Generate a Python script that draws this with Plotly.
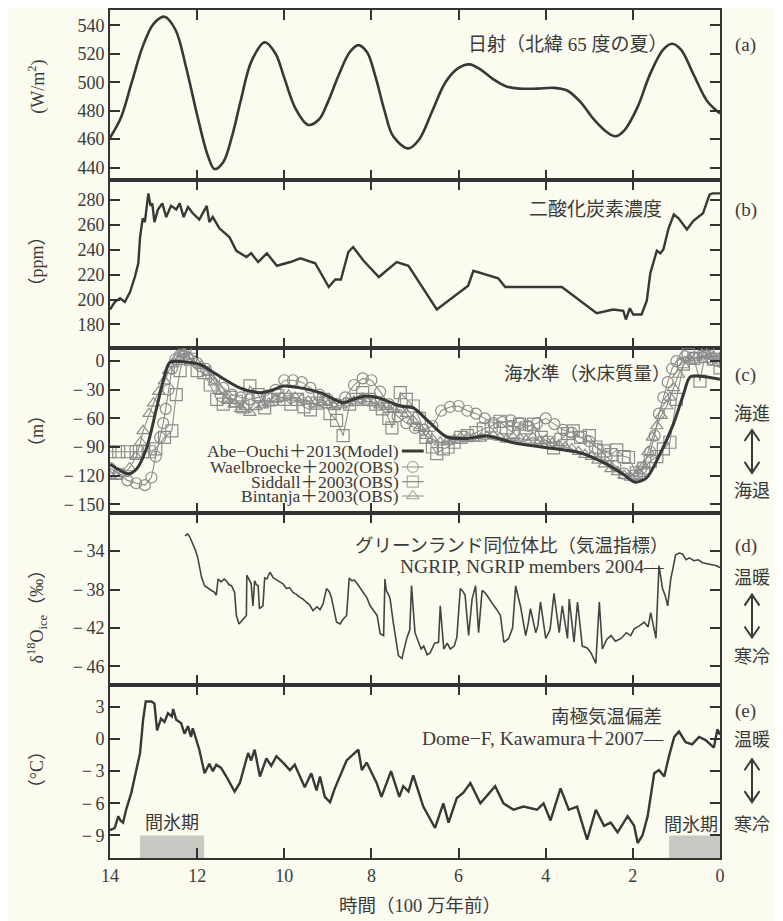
import plotly.graph_objects as go

# ---------------- data ----------------
# (a) insolation, 65N summer (W/m2)
ins_x = [14.0, 13.75, 13.5, 13.25, 13.0, 12.75, 12.5, 12.25, 12.0, 11.75, 11.6, 11.4, 11.2, 11.0, 10.75,
         10.45, 10.2, 10.0, 9.75, 9.45, 9.2, 9.0, 8.75, 8.5, 8.3, 8.1, 7.9, 7.7, 7.5, 7.15, 6.9, 6.6, 6.3,
         6.0, 5.75, 5.5, 5.2, 4.9, 4.6, 4.2, 3.8, 3.5, 3.2, 2.9, 2.6, 2.4, 2.2, 1.9, 1.6, 1.3, 1.1, 0.9,
         0.6, 0.3, 0.0]
ins_y = [461, 475, 500, 525, 541, 546, 537, 510, 477, 448, 439, 444, 462, 487, 515,
         528, 520, 503, 482, 470, 474, 486, 505, 521, 526, 521, 503, 480, 462, 453.5, 460, 480, 500,
         510, 512.5, 509, 502, 497, 495.5, 495.5, 496, 494, 486, 474, 465, 462, 466, 482, 506, 523, 527, 523,
         505, 487, 478]

# (b) CO2 (ppm)
co2_x = [14.0, 13.89, 13.77, 13.66, 13.54, 13.43, 13.35, 13.31, 13.25, 13.2, 13.12, 13.07, 13.03, 12.98,
         12.9, 12.8, 12.71, 12.6, 12.48, 12.4, 12.31, 12.21, 12.1, 11.95, 11.78, 11.72, 11.64, 11.49,
         11.26, 11.1, 10.87, 10.76, 10.6, 10.4, 10.17, 9.86, 9.63, 9.29, 8.98, 8.83, 8.7, 8.53, 8.42,
         8.18, 7.83, 7.42, 7.15, 6.5, 5.78, 5.66, 5.09, 4.93, 3.63, 2.83, 2.45, 2.22, 2.16, 2.07, 1.99,
         1.8, 1.68, 1.6, 1.45, 1.37, 1.3, 1.18, 1.06, 0.95, 0.76, 0.61, 0.39, 0.24, 0.17, 0.0]
co2_y = [192, 198, 201, 198, 206, 218, 229, 250, 265, 262, 285, 275, 277, 262,
         272, 277, 266, 275, 272, 277, 266, 274, 269, 264, 275, 262, 266, 257,
         250, 239, 234, 237, 230, 237, 227, 230, 233, 229, 210, 216, 216, 238, 242,
         231, 218, 230, 227, 192, 211, 223, 217, 210, 210, 189, 192, 191, 184, 193, 188,
         188, 199, 221, 239, 237, 240, 257, 268, 265, 256, 263, 269, 284, 285, 285]

# (c) sea level (m)
model_x = [14.0, 13.58, 13.39, 13.16, 12.93, 12.74, 12.62, 12.24, 11.93, 11.55, 11.02, 10.56, 10.25, 10.02,
           9.64, 9.18, 8.65, 8.42, 8.11, 7.8, 7.34, 7.04, 6.66, 6.27, 5.81, 5.35, 4.74, 3.98, 3.21, 2.6,
           2.22, 1.95, 1.68, 1.38, 1.07, 0.84, 0.69, 0.46, 0.0]
model_y = [-108, -118, -113, -91, -49, -14, -1, -1, -3.5, -14, -28, -33, -30, -26,
           -28, -33, -43.6, -40, -36.6, -39, -47, -49, -64.5, -79.5, -81, -78.5, -85.5, -90.7, -96, -108,
           -118.6, -127, -122, -97.6, -66, -35, -16.7, -15.7, -19]

wael_x = [14.0, 13.8, 13.6, 13.4, 13.2, 13.05, 12.95, 12.85, 12.78, 12.72, 12.66, 12.58, 12.5, 12.4, 12.3,
          12.2, 12.0, 11.8, 11.6, 11.4, 11.2, 11.0, 10.8, 10.6, 10.4, 10.2, 10.0, 9.8, 9.6, 9.4, 9.2, 9.0,
          8.8, 8.6, 8.4, 8.2, 8.0, 7.8, 7.6, 7.4, 7.2, 7.0, 6.8, 6.6, 6.4, 6.2, 6.0, 5.8, 5.6, 5.4, 5.2,
          5.0, 4.8, 4.6, 4.4, 4.2, 4.0, 3.8, 3.6, 3.4, 3.2, 3.0, 2.8, 2.6, 2.4, 2.2, 2.0, 1.8, 1.6, 1.5,
          1.4, 1.3, 1.2, 1.1, 1.0, 0.8, 0.6, 0.4, 0.2, 0.05]
wael_y = [-112, -118, -125, -128, -130, -122, -100, -80, -65, -50, -30, -8, 2, 6, 5,
          3, -2, -8, -18, -28, -35, -38, -40, -38, -36, -30, -20, -20, -22, -28, -35, -40,
          -45, -38, -25, -18, -20, -32, -45, -58, -65, -70, -72, -68, -52, -48, -47, -52, -55, -60, -65,
          -64, -62, -65, -68, -65, -60, -66, -72, -75, -80, -84, -92, -100, -110, -118, -120, -112, -95, -78,
          -55, -38, -22, -8, 0, 5, 3, 4, 2, 0]

sidd_x = [14.0, 13.8, 13.6, 13.4, 13.25, 13.1, 12.95, 12.75, 12.58, 12.48, 12.39, 12.28, 12.15, 12.0, 11.85,
          11.7, 11.55, 11.4, 11.25, 11.1, 10.95, 10.79, 10.6, 10.45, 10.3, 10.15, 10.0, 9.85, 9.7, 9.55,
          9.4, 9.25, 9.1, 8.95, 8.8, 8.65, 8.5, 8.35, 8.2, 8.05, 7.9, 7.75, 7.6, 7.53, 7.34, 7.2, 7.04,
          6.9, 6.75, 6.6, 6.5, 6.35, 6.24, 6.1, 5.95, 5.8, 5.6, 5.43, 5.25, 5.05, 4.9, 4.75, 4.6, 4.45,
          4.28, 4.1, 3.95, 3.82, 3.65, 3.5, 3.37, 3.2, 3.0, 2.85, 2.67, 2.5, 2.37, 2.2, 2.1, 1.92, 1.75,
          1.6, 1.45, 1.3, 1.15, 1.0, 0.84, 0.73, 0.6, 0.46, 0.35, 0.28, 0.15, 0.0]
sidd_y = [-95, -95, -95, -95, -95, -95, -92, -80, -73, -35, -10, 14, 2, -10, -12,
          -25, -40, -45, -38, -42, -48, -26, -35, -49, -40, -36, -40, -45, -40, -48,
          -51, -44, -40, -55, -62, -78, -45, -40, -33, -40, -45, -50, -60, -70, -33, -40, -47,
          -60, -80, -90, -97, -92, -90, -85, -80, -78, -75, -71, -68, -63, -70, -75, -66, -70,
          -66, -80, -85, -91, -82, -76, -73, -80, -78, -90, -94, -98, -93, -100, -101, -117, -112,
          -105, -100, -92, -85, -40, -3, 7, 3, -21, 5, 11, 2, -7]

bint_x = [14.0, 13.85, 13.7, 13.55, 13.4, 13.3, 13.24, 13.1, 13.0, 12.88, 12.75, 12.65, 12.56, 12.45, 12.33,
          12.2, 12.05, 11.9, 11.75, 11.6, 11.45, 11.3, 11.15, 11.0, 10.9, 10.79, 10.65, 10.5, 10.35, 10.2,
          10.05, 9.9, 9.75, 9.6, 9.45, 9.3, 9.15, 9.0, 8.85, 8.7, 8.55, 8.4, 8.25, 8.1, 7.95, 7.8, 7.65,
          7.5, 7.34, 7.2, 7.05, 6.9, 6.75, 6.6, 6.42, 6.25, 6.1, 5.95, 5.8, 5.65, 5.5, 5.35, 5.2, 5.05,
          4.9, 4.75, 4.6, 4.45, 4.3, 4.15, 4.0, 3.85, 3.7, 3.55, 3.4, 3.25, 3.1, 2.95, 2.8, 2.65, 2.5,
          2.35, 2.2, 2.05, 1.95, 1.85, 1.75, 1.65, 1.55, 1.45, 1.35, 1.22, 1.15, 1.07, 0.95, 0.84, 0.7,
          0.55, 0.4, 0.3, 0.15, 0.0]
bint_y = [-120, -121, -118, -112, -100, -85, -73, -55, -44, -32, -21, -10, -3, 4, 8,
          5, 0, -5, -12, -22, -32, -40, -45, -50, -48, -54, -48, -46, -44, -40,
          -38, -36, -38, -40, -42, -45, -43, -46, -48, -46, -44, -42, -40, -42, -44, -46, -48,
          -50, -51, -55, -62, -70, -78, -82, -85, -84, -82, -80, -80, -81, -81, -79, -78, -80,
          -82, -80, -81, -83, -80, -84, -83, -86, -88, -90, -92, -95, -98, -100, -104, -108, -113,
          -116, -120, -122, -121, -118, -110, -95, -80, -68, -57, -47, -38, -28, -14, -4, 2,
          4, 6, 7, 5, 4]

# (d) NGRIP d18O (permil)
ngrip_x = [12.28, 12.22, 12.17, 12.09, 12.03, 11.98, 11.9, 11.83, 11.75, 11.67, 11.6, 11.56, 11.52, 11.45,
           11.38, 11.33, 11.27, 11.21, 11.14, 11.1, 11.04, 10.96, 10.87, 10.86, 10.8, 10.76, 10.72, 10.68,
           10.64, 10.6, 10.57, 10.49, 10.45, 10.4, 10.33, 10.25, 10.18, 10.1, 10.03, 9.95, 9.88, 9.8, 9.72,
           9.65, 9.57, 9.5, 9.42, 9.34, 9.25, 9.18, 9.11, 9.03, 8.97, 8.92, 8.86, 8.8, 8.72, 8.65, 8.57,
           8.51, 8.45, 8.4, 8.34, 8.26, 8.18, 8.1, 8.03, 7.95, 7.87, 7.8, 7.72, 7.69, 7.66, 7.6, 7.57,
           7.5, 7.46, 7.38, 7.3, 7.19, 7.12, 7.08, 7.0, 6.92, 6.86, 6.8, 6.72, 6.65, 6.55, 6.46, 6.42,
           6.34, 6.26, 6.19, 6.1, 6.04, 5.96, 5.9, 5.85, 5.77, 5.69, 5.61, 5.54, 5.46, 5.4, 5.35, 5.27,
           5.19, 5.12, 5.04, 4.96, 4.85, 4.76, 4.69, 4.63, 4.58, 4.46, 4.4, 4.35, 4.23, 4.18, 4.12,
           4.0, 3.9, 3.81, 3.75, 3.69, 3.62, 3.5, 3.46, 3.4, 3.35, 3.27, 3.16, 3.05, 2.96, 2.85, 2.77,
           2.7, 2.6, 2.5, 2.4, 2.27, 2.15, 2.05, 1.97, 1.85, 1.74, 1.65, 1.59, 1.47, 1.4, 1.32, 1.26,
           1.2, 1.13, 1.08, 1.02, 0.94, 0.86, 0.78, 0.7, 0.6, 0.5, 0.4, 0.3, 0.2, 0.1, 0.0]
ngrip_y = [-32.4, -32.2, -32.5, -33.4, -34.0, -34.8, -36.7, -37.6, -37.9, -38.1, -38.3, -38.6, -36.9, -37.2,
           -36.9, -37.1, -37.5, -37.6, -38.3, -40.7, -41.6, -41.2, -40.7, -36.5, -37.0, -37.4, -39.7, -37.1,
           -37.5, -37.6, -40.0, -39.7, -36.8, -36.9, -36.2, -36.8, -37.0, -37.2, -37.4, -37.9, -37.8, -38.3, -38.5,
           -38.8, -39.0, -39.3, -39.6, -40.2, -39.8, -40.1, -39.5, -37.9, -38.2, -38.8, -40.0, -41.4, -41.6, -41.1, -40.7,
           -36.8, -37.1, -37.0, -37.3, -37.8, -38.3, -38.9, -39.7, -40.2, -40.7, -42.6, -42.8, -36.9, -38.1, -38.6, -39.0,
           -41.4, -42.5, -44.9, -45.2, -43.1, -42.2, -37.6, -42.5, -43.4, -44.2, -43.9, -44.8, -44.6, -43.6, -43.5, -39.7,
           -44.2, -43.6, -44.2, -43.9, -43.0, -37.9, -38.2, -38.6, -42.8, -39.0, -37.6, -42.5, -38.1, -38.3, -38.6, -39.2,
           -39.7, -40.1, -40.7, -43.5, -43.1, -42.0, -37.6, -38.8, -39.7, -42.8, -41.5, -40.0, -42.5, -41.8, -39.3,
           -43.1, -42.2, -38.4, -40.6, -42.5, -39.7, -43.1, -39.0, -41.8, -43.5, -39.3, -43.9, -44.1, -44.6, -45.7, -39.3,
           -44.2, -43.2, -42.8, -43.4, -43.1, -42.5, -42.8, -42.1, -41.8, -41.4, -41.9, -40.4, -43.1, -35.5, -37.9, -38.6,
           -39.7, -36.9, -35.8, -34.4, -34.2, -34.3, -34.9, -34.7, -35.0, -34.9, -35.2, -35.3, -35.4, -35.5, -35.7]

# (e) Dome-F temperature anomaly (deg C)
domef_x = [14.0, 13.89, 13.81, 13.76, 13.7, 13.63, 13.51, 13.39, 13.31, 13.24, 13.18, 13.05, 12.98, 12.92,
           12.83, 12.75, 12.67, 12.58, 12.55, 12.48, 12.37, 12.29, 12.21, 12.14, 12.1, 11.95, 11.83, 11.72,
           11.64, 11.56, 11.45, 11.33, 11.14, 11.02, 10.83, 10.76, 10.68, 10.56, 10.41, 10.3, 10.18, 10.03,
           9.87, 9.76, 9.53, 9.38, 9.26, 9.18, 9.07, 8.95, 8.84, 8.57, 8.37, 8.3, 8.22, 8.11, 7.88, 7.77,
           7.55, 7.36, 7.27, 7.15, 7.04, 6.81, 6.54, 6.35, 6.23, 6.04, 5.89, 5.73, 5.5, 5.16, 4.97, 4.74,
           4.51, 4.2, 4.05, 3.89, 3.66, 3.47, 3.28, 3.05, 2.85, 2.66, 2.51, 2.35, 2.12, 1.97, 1.89, 1.78,
           1.66, 1.51, 1.4, 1.28, 1.17, 1.05, 0.94, 0.79, 0.64, 0.48, 0.33, 0.14, 0.06, 0.0]
domef_y = [-8.5, -8.3, -7.2, -7.6, -7.8, -6.6, -5.0, -2.9, -1.3, 1.8, 3.5, 3.5, 3.3, 0.8,
           1.9, 1.6, 2.4, 2.1, 2.8, 1.8, 1.5, 0.5, 1.2, 0.2, 1.0, -1.0, -3.2, -2.3,
           -3.0, -2.4, -2.7, -3.5, -4.9, -4.1, -1.3, -2.0, -1.0, -3.5, -1.8, -2.5, -1.6, -2.2,
           -2.9, -2.4, -4.5, -3.2, -4.8, -3.5, -5.4, -5.9, -4.6, -2.0, -1.3, -1.0, -2.9, -2.2, -4.1, -5.4,
           -3.0, -5.4, -4.4, -4.9, -3.4, -6.3, -8.3, -6.0, -7.8, -5.5, -5.0, -4.1, -6.0, -4.4, -6.0, -6.6,
           -6.3, -6.6, -6.0, -7.6, -4.6, -6.6, -6.3, -9.4, -6.6, -8.1, -7.8, -8.7, -7.2, -8.1, -9.7, -9.0,
           -7.2, -3.2, -2.9, -3.5, -1.6, 0.2, 0.7, -0.3, -0.5, 0.2, -0.1, -0.8, 0.9, 0.4]

# interglacial spans (x from, x to) on panel (e)
interglacial_spans = [(13.31, 11.84), (1.17, 0.0)]

# axis ticks
x_ticks = [14, 12, 10, 8, 6, 4, 2, 0]
ticks_a = [440, 460, 480, 500, 520, 540]
ticks_b = [180, 200, 220, 240, 260, 280]
ticks_c = [-150, -120, -90, -60, -30, 0]
ticks_d = [-46, -42, -38, -34]
ticks_e = [-9, -6, -3, 0, 3]

# ---------------- layout helpers ----------------
# the page body adds an 8px offset; all positions below are given in window pixels
OFF = 8
W, H = 783 - OFF, 921 - OFF
L, T = 110 - OFF, 8 - OFF
R = W - (720 - OFF)
B = H - (858 - OFF)
PW, PH = W - L - R, H - T - B
edges = [8, 178, 347, 512, 685, 858]


def yp(py):
    return ((858 - OFF) - (py - OFF)) / PH


def xp(px):
    return ((px - OFF) - L) / PW


BG = "#fbfbef"
INK = "#383838"
GRAY = "#8c8c8c"
SERIF = "Liberation Serif, Noto Sans CJK JP"
JP = "Liberation Serif, Noto Sans CJK JP"

fig = go.Figure()

fig.add_trace(go.Scatter(x=ins_x, y=ins_y, mode="lines", line=dict(color=INK, width=2.6, shape="spline", smoothing=1.0),
                         xaxis="x", yaxis="y", showlegend=False))
fig.add_trace(go.Scatter(x=co2_x, y=co2_y, mode="lines", line=dict(color=INK, width=2.4),
                         xaxis="x2", yaxis="y2", showlegend=False))

obs_style = dict(color=GRAY, width=1.1)
fig.add_trace(go.Scatter(x=sidd_x, y=sidd_y, mode="lines+markers", line=obs_style,
                         marker=dict(symbol="square-open", size=12, color=GRAY, line=dict(width=1.2)),
                         xaxis="x3", yaxis="y3", showlegend=False))
fig.add_trace(go.Scatter(x=wael_x, y=wael_y, mode="lines+markers", line=obs_style,
                         marker=dict(symbol="circle-open", size=11, color=GRAY, line=dict(width=1.2)),
                         xaxis="x3", yaxis="y3", showlegend=False))
fig.add_trace(go.Scatter(x=bint_x, y=bint_y, mode="lines+markers", line=obs_style,
                         marker=dict(symbol="triangle-up-open", size=11, color=GRAY, line=dict(width=1.2)),
                         xaxis="x3", yaxis="y3", showlegend=False))
fig.add_trace(go.Scatter(x=model_x, y=model_y, mode="lines", line=dict(color=INK, width=3, shape="spline", smoothing=0.8),
                         xaxis="x3", yaxis="y3", showlegend=False))

fig.add_trace(go.Scatter(x=ngrip_x, y=ngrip_y, mode="lines", line=dict(color="#444", width=1.6),
                         xaxis="x4", yaxis="y4", showlegend=False))
fig.add_trace(go.Scatter(x=domef_x, y=domef_y, mode="lines", line=dict(color=INK, width=2.4),
                         xaxis="x5", yaxis="y5", showlegend=False))

# legend samples in (c)
leg_rows = [-94.2, -110.9, -126.3, -141.3]
leg_x0, leg_x1, leg_xm = 7.30, 6.80, 7.05
fig.add_trace(go.Scatter(x=[leg_x0, leg_x1], y=[leg_rows[0]] * 2, mode="lines", line=dict(color=INK, width=3),
                         xaxis="x3", yaxis="y3", showlegend=False))
for yy, sym in zip(leg_rows[1:], ["circle-open", "square-open", "triangle-up-open"]):
    fig.add_trace(go.Scatter(x=[leg_x0, leg_xm, leg_x1], y=[yy] * 3, mode="lines+markers", line=obs_style,
                             marker=dict(symbol=sym, size=[0, 11, 0], color=GRAY, line=dict(width=1.2)),
                             xaxis="x3", yaxis="y3", showlegend=False))

ranges = [[431.6, 550.7], [161, 296], [-159, 13.6], [-48, -30], [-11.1, 5.0]]
yticks = [ticks_a, ticks_b, ticks_c, ticks_d, ticks_e]


def fmt(v):
    return ("−\u2009" + str(abs(v))) if v < 0 else str(v)


tickfont = dict(family=SERIF, size=18, color="#3a3a3a")
axis_common = dict(showline=True, linecolor="#333", linewidth=2, mirror="ticks", ticks="inside",
                   ticklen=10, tickwidth=1.6, tickcolor="#333", showgrid=False, zeroline=False,
                   tickfont=tickfont)
layout_axes = {}
for i in range(5):
    sfx = "" if i == 0 else str(i + 1)
    top = edges[i]
    bot = edges[i + 1]
    layout_axes["xaxis" + sfx] = dict(axis_common, domain=[0, 1], anchor="y" + sfx, range=[14, 0],
                                      tickvals=x_ticks, showticklabels=(i == 4),
                                      **({} if i == 0 else {"matches": "x"}))
    layout_axes["yaxis" + sfx] = dict(axis_common, domain=[yp(bot), yp(top)], anchor="x" + sfx,
                                      range=ranges[i], tickvals=yticks[i],
                                      ticktext=[fmt(v) for v in yticks[i]])
fig.update_layout(**layout_axes)

ann = []


def text(px, py, s, size=17, xanchor="center", color="#3a3a3a", angle=0, family=JP):
    ann.append(dict(x=xp(px), y=yp(py), xref="paper", yref="paper", text=s, showarrow=False,
                    xanchor=xanchor, yanchor="middle", textangle=angle,
                    font=dict(family=family, size=size, color=color)))


text(670, 43, "日射（北緯 65 度の夏）", xanchor="right", size=19)
text(664, 208, "二酸化炭素濃度", xanchor="right", size=19)
text(673, 373, "海水準（氷床質量）", xanchor="right", size=18.5)
text(671, 545, "グリーンランド同位体比（気温指標）", xanchor="right", size=18.5)
text(666, 566, "NGRIP, NGRIP members 2004—", xanchor="right", size=19.5)
text(664, 717, "南極気温偏差", xanchor="right", size=18.5)
text(666, 738, "Dome−F, Kawamura＋2007—", xanchor="right", size=19.5)

for s, py in [("(a)", 43), ("(b)", 208), ("(c)", 374), ("(d)", 545), ("(e)", 711)]:
    text(733, py, s, xanchor="left", size=19)

for s, py in zip(["Abe−Ouchi＋2013(Model)", "Waelbroecke＋2002(OBS)", "Siddall＋2003(OBS)",
                  "Bintanja＋2003(OBS)"], [450, 466, 480.7, 495]):
    text(401, py, s, xanchor="right", size=17.5)

text(752, 413, "海進", size=18)
text(752, 490, "海退", size=18)
text(752, 577, "温暖", size=18)
text(752, 657, "寒冷", size=18)
text(752, 740, "温暖", size=18)
text(752, 825, "寒冷", size=18)

text(172, 823, "間氷期", size=18)
text(720, 825, "間氷期", xanchor="right", size=18)

text(37, 85, "(W/m<sup>2</sup>)", angle=-90, size=18)
text(37, 260, "（ppm）", angle=-90, size=18)
text(37, 430, "（m）", angle=-90, size=18)
text(37, 612, "δ<sup>18</sup>O<sub>ice</sub>（‰）", angle=-90, size=18)
text(37, 770, "（°C）", angle=-90, size=18)

text(420, 906, "時間（100 万年前）", size=18.5)

shapes = []


def arrow(top_py, bot_py, cx=752, hw=7.5, hh=11):
    shapes.append(dict(type="line", xref="paper", yref="paper", x0=xp(cx), x1=xp(cx), y0=yp(top_py), y1=yp(bot_py),
                       line=dict(color="#3a3a3a", width=2)))
    for tip, sgn in [(top_py, 1), (bot_py, -1)]:
        path = "M {} {} L {} {} L {} {}".format(xp(cx - hw), yp(tip + sgn * hh), xp(cx), yp(tip),
                                                 xp(cx + hw), yp(tip + sgn * hh))
        shapes.append(dict(type="path", xref="paper", yref="paper", path=path,
                           line=dict(color="#3a3a3a", width=2)))


arrow(429, 472)
arrow(594, 637)
arrow(759, 802)

for x0, x1 in interglacial_spans:
    shapes.append(dict(type="rect", xref="x5", yref="y5", x0=x0, x1=x1, y0=-11.1, y1=-9.0,
                       fillcolor="#c9c9c3", line=dict(width=0), layer="below"))

fig.update_layout(annotations=ann, shapes=shapes, width=W, height=H,
                  margin=dict(l=L, r=R, t=T, b=B), paper_bgcolor=BG, plot_bgcolor=BG,
                  showlegend=False)

fig.write_html("out.html")
